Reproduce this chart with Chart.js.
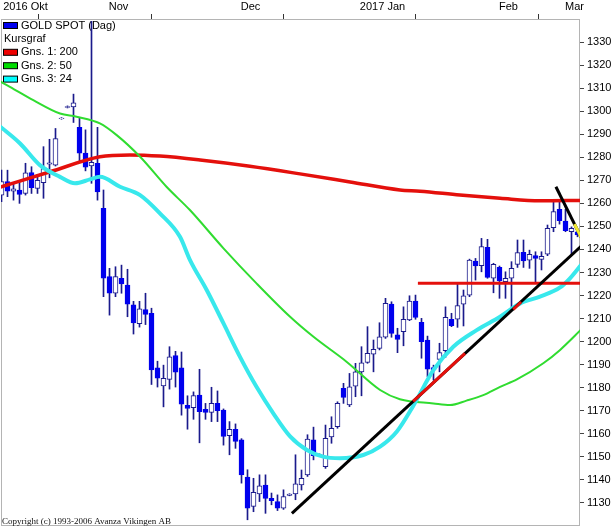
<!DOCTYPE html>
<html>
<head>
<meta charset="utf-8">
<title>GOLD SPOT (Dag)</title>
<script src="https://cdn.jsdelivr.net/npm/chart.js@4.4.0/dist/chart.umd.min.js"></script>
<style>
    html, body { margin: 0; padding: 0; background: #fff; }
    #wrap { width: 616px; height: 527px; position: relative; }
</style>
</head>
<body>
<div id="wrap"><canvas id="goldChart"></canvas></div>
<script>
// Trading days shown in the chart (one candle per day)
const dates = [
    '2016-10-19','2016-10-20','2016-10-21','2016-10-24','2016-10-25','2016-10-26','2016-10-27','2016-10-28','2016-10-31',
    '2016-11-01','2016-11-02','2016-11-03','2016-11-04','2016-11-07','2016-11-08','2016-11-09','2016-11-10','2016-11-11',
    '2016-11-14','2016-11-15','2016-11-16','2016-11-17','2016-11-18','2016-11-21','2016-11-22','2016-11-23','2016-11-24',
    '2016-11-25','2016-11-28','2016-11-29','2016-11-30',
    '2016-12-01','2016-12-02','2016-12-05','2016-12-06','2016-12-07','2016-12-08','2016-12-09','2016-12-12','2016-12-13',
    '2016-12-14','2016-12-15','2016-12-16','2016-12-19','2016-12-20','2016-12-21','2016-12-22','2016-12-23','2016-12-26',
    '2016-12-27','2016-12-28','2016-12-29','2016-12-30',
    '2017-01-02','2017-01-03','2017-01-04','2017-01-05','2017-01-06','2017-01-09','2017-01-10','2017-01-11','2017-01-12',
    '2017-01-13','2017-01-16','2017-01-17','2017-01-18','2017-01-19','2017-01-20','2017-01-23','2017-01-24','2017-01-25',
    '2017-01-26','2017-01-27','2017-01-30','2017-01-31',
    '2017-02-01','2017-02-02','2017-02-03','2017-02-06','2017-02-07','2017-02-08','2017-02-09','2017-02-10','2017-02-13',
    '2017-02-14','2017-02-15','2017-02-16','2017-02-17','2017-02-20','2017-02-21','2017-02-22','2017-02-23','2017-02-24',
    '2017-02-27','2017-02-28',
    '2017-03-01','2017-03-02'
];

const opens = [
    1263.6, 1269.4, 1265.3, 1265.8, 1264.3, 1273.4, 1266.5, 1269.0, 1277.0, 1276.6,
    1296.7, 1301.6, 1301.9, 1293.0, 1281.8, 1276.2, 1277.4, 1257.8, 1228.2, 1221.0,
    1227.5, 1224.5, 1216.0, 1207.8, 1213.9, 1212.3, 1188.6, 1180.8, 1183.6, 1193.9,
    1188.6, 1172.4, 1171.3, 1176.8, 1170.6, 1169.3, 1173.2, 1170.3, 1159.2, 1162.0,
    1157.4, 1141.2, 1128.5, 1133.9, 1137.8, 1132.0, 1130.6, 1127.7, 1133.3, 1133.9,
    1137.8, 1142.2, 1157.4, 1150.6, 1145.7, 1158.7, 1163.1, 1179.7, 1172.5, 1180.7,
    1186.9, 1191.0, 1194.6, 1197.1, 1201.9, 1216.3, 1202.9, 1204.3, 1209.4, 1217.6,
    1208.4, 1200.7, 1188.7, 1192.3, 1196.1, 1209.7, 1209.7, 1216.3, 1220.2, 1235.0,
    1233.0, 1240.9, 1227.5, 1232.2, 1226.0, 1227.5, 1233.5, 1238.7, 1235.4, 1237.3,
    1235.7, 1237.9, 1249.4, 1257.4, 1252.3, 1247.7, 1247.6
];
const highs = [
    1274.4, 1274.4, 1268.7, 1269.4, 1277.4, 1275.9, 1272.5, 1284.6, 1287.8, 1292.5,
    1297.2, 1302.3, 1307.4, 1296.9, 1291.9, 1339.0, 1293.0, 1265.8, 1231.8, 1232.5,
    1233.2, 1231.4, 1217.5, 1217.5, 1221.0, 1214.5, 1191.5, 1189.8, 1197.8, 1195.8,
    1195.5, 1176.5, 1178.2, 1188.0, 1173.2, 1180.2, 1178.6, 1170.8, 1165.3, 1164.3,
    1157.9, 1144.4, 1140.7, 1142.2, 1142.2, 1134.3, 1133.5, 1135.7, 1134.0, 1150.9,
    1144.3, 1159.6, 1162.9, 1151.3, 1163.8, 1167.4, 1173.9, 1181.9, 1186.2, 1190.6,
    1197.8, 1206.5, 1200.7, 1208.2, 1218.8, 1217.3, 1205.8, 1215.1, 1219.9, 1220.2,
    1210.1, 1202.4, 1189.8, 1199.3, 1215.1, 1212.3, 1225.3, 1222.4, 1235.8, 1236.1,
    1244.8, 1244.4, 1234.0, 1232.8, 1230.3, 1234.7, 1244.1, 1244.1, 1239.7, 1239.0,
    1239.0, 1250.6, 1260.7, 1261.4, 1257.4, 1249.8, 1248.5
];
const lows = [
    1260.7, 1262.9, 1261.4, 1260.0, 1263.6, 1264.3, 1264.3, 1262.2, 1271.1, 1276.2,
    1296.5, 1301.4, 1295.1, 1278.3, 1274.1, 1268.7, 1261.4, 1219.5, 1211.5, 1219.5,
    1221.0, 1210.8, 1203.3, 1206.3, 1207.4, 1181.4, 1180.3, 1171.7, 1179.4, 1180.3,
    1168.1, 1162.0, 1166.3, 1156.1, 1166.3, 1165.3, 1165.3, 1155.1, 1150.9, 1153.7,
    1138.6, 1122.7, 1126.2, 1130.6, 1125.5, 1129.2, 1126.7, 1127.2, 1133.1, 1131.4,
    1135.6, 1141.5, 1148.7, 1150.3, 1145.0, 1155.9, 1162.4, 1173.2, 1171.8, 1176.1,
    1176.5, 1190.6, 1186.9, 1196.4, 1201.4, 1201.9, 1195.2, 1198.2, 1209.1, 1209.7,
    1192.8, 1184.8, 1183.3, 1186.9, 1193.2, 1206.5, 1206.2, 1206.8, 1219.5, 1226.7,
    1230.3, 1227.5, 1221.2, 1218.8, 1218.8, 1213.7, 1232.2, 1232.2, 1231.8, 1226.0,
    1231.1, 1237.3, 1247.7, 1251.0, 1247.7, 1237.6, 1245.5
];
const closes = [
    1269.4, 1265.3, 1266.3, 1263.9, 1273.3, 1266.8, 1270.0, 1275.1, 1277.6, 1288.1,
    1297.0, 1302.0, 1303.6, 1281.8, 1275.7, 1277.8, 1265.0, 1227.5, 1221.0, 1228.2,
    1225.0, 1216.3, 1208.1, 1214.2, 1211.8, 1187.7, 1184.1, 1184.1, 1193.4, 1186.8,
    1172.9, 1171.0, 1176.6, 1169.6, 1169.3, 1173.2, 1170.0, 1158.9, 1162.0, 1156.7,
    1142.2, 1127.7, 1134.6, 1137.4, 1132.0, 1131.0, 1127.7, 1132.8, 1133.8, 1138.3,
    1140.7, 1157.7, 1150.5, 1151.0, 1158.0, 1162.4, 1173.2, 1175.8, 1180.4, 1186.9,
    1190.8, 1194.9, 1196.7, 1202.1, 1216.6, 1203.6, 1201.0, 1209.7, 1217.6, 1210.5,
    1200.0, 1188.0, 1187.7, 1195.2, 1210.5, 1206.9, 1215.6, 1219.9, 1235.4, 1232.9,
    1241.3, 1227.9, 1233.5, 1226.4, 1227.5, 1231.8, 1238.6, 1235.0, 1237.9, 1236.1,
    1237.0, 1249.2, 1256.4, 1252.5, 1248.1, 1249.2, 1246.3
];

// Moving averages as [day index, price]
const ma200 = [
    [-0.3, 1267.0], [8.1, 1273.7], [16.4, 1280.2], [21.4, 1281.0], [26.4, 1280.5], [33.1, 1278.8],
    [41.4, 1276.1], [49.75, 1272.8], [58.1, 1269.3], [66.4, 1265.8], [69.75, 1265.3], [76.4, 1263.6],
    [83.1, 1262.2], [89.75, 1261.1], [96.6, 1261.3]
];
const ma50 = [
    [-0.3, 1313.0], [1.4, 1310.6], [5.3, 1304.8], [9.75, 1299.0], [12.5, 1297.6], [16.4, 1294.7],
    [19.2, 1289.6], [23.1, 1280.2], [27.5, 1267.2], [31.4, 1257.1], [37, 1240.5], [42.5, 1225.3],
    [48.1, 1210.8], [52, 1202.1], [57.5, 1191.3], [63.1, 1179.0], [66.4, 1175.0], [72, 1173.2],
    [74.75, 1172.5], [77.5, 1174.4], [80.3, 1176.8], [83.1, 1180.4], [85.9, 1183.6], [90.3, 1190.6],
    [93.1, 1196.4], [96.6, 1205.2]
];
const ma24 = [
    [-0.3, 1293.5], [3.1, 1286.0], [6.4, 1276.6], [9.75, 1271.5], [12.25, 1268.7], [14.75, 1270.4],
    [16.4, 1271.5], [19.75, 1267.2], [23.1, 1263.6], [26.4, 1255.7], [29.75, 1245.5], [31.4, 1235.5],
    [34.2, 1222.4], [37, 1207.9], [39.75, 1193.4], [42.5, 1180.4], [45.3, 1168.9], [48.1, 1158.9],
    [50.9, 1153.0], [53.6, 1150.1], [56.4, 1149.4], [60.3, 1150.8], [63.1, 1154.4], [65.9, 1161.0],
    [68.6, 1172.0], [72, 1187.7], [75.3, 1197.8], [79.2, 1205.0], [83.1, 1210.8], [86.4, 1216.5],
    [89.75, 1219.5], [93.1, 1223.5], [94.75, 1227.5], [96.6, 1233.3]
];

// Hand drawn trend lines
const supportLine = [[48.4, 1125.5], [96.6, 1241.4]];
const supportRedParts = [[68.6, 1174.1], [77.25, 1194.9], [77.3, null], [85.3, 1214.0], [86.6, 1217.2]];
const levelLine = [[69.4, 1225.3], [96.6, 1225.3]];
const fallingLine = [[92.4, 1267.2], [96.6, 1245.3]];
const fallingEnd = [[95.5, 1251.0], [96.6, 1245.3]];

// Axis labels
const monthLabels = ['2016 Okt', 'Nov', 'Dec', '2017 Jan', 'Feb', 'Mar'];
const yTickValues = [1130, 1140, 1150, 1160, 1170, 1180, 1190, 1200, 1210, 1220,
    1230, 1240, 1250, 1260, 1270, 1280, 1290, 1300, 1310, 1320, 1330];
const legendHeader = 'Kursgraf';
const copyrightText = 'Copyright (c) 1993-2006 Avanza Vikingen AB';

document.addEventListener('DOMContentLoaded', () => {
    const ctx = document.getElementById('goldChart').getContext('2d');

    const BLUE = '#0000ee';
    const NAVY = '#1a1a8c';
    const RED = '#e4100c';
    const GREEN = '#30dc30';
    const CYAN = '#38e8ec';
    const FONT = { family: '"Liberation Sans", Arial, sans-serif', size: 11 };

    const toXY = pts => pts.map(p => ({ x: p[0], y: p[1] }));
    const isUp = i => closes[i] >= opens[i];

    // 1. Month groups -> label positions and boundary tick marks
    const groups = [];
    dates.forEach((d, i) => {
        const key = d.slice(0, 7);
        const last = groups[groups.length - 1];
        if (last && last.key === key) last.end = i;
        else groups.push({ key, start: i, end: i });
    });
    const boundaryTicks = groups.slice(1).map(g => g.start - 0.5);
    const labelTicks = {};
    groups.forEach((g, n) => { labelTicks[(g.start + g.end) / 2] = monthLabels[n]; });
    const xTickValues = boundaryTicks.concat(Object.keys(labelTicks).map(Number)).sort((a, b) => a - b);

    // 2. Frame, legend and copyright line drawn on the canvas
    const framePlugin = {
        id: 'frame',
        beforeDatasetsDraw(chart) {
            const { ctx: c, chartArea: a } = chart;
            c.save();
            c.strokeStyle = '#b4b4b4';
            c.lineWidth = 1;
            c.strokeRect(a.left + 0.5, a.top + 0.5, a.right - a.left - 1, a.bottom - a.top - 1);

            // legend: body series, header, then the averages
            const rows = [{ text: chart.data.datasets[1].label, color: BLUE }, { text: legendHeader }];
            chart.data.datasets.filter(ds => ds.inLegend).forEach(ds => rows.push({ text: ds.label, color: ds.legendColor }));
            c.font = FONT.size + 'px ' + FONT.family;
            c.textBaseline = 'middle';
            c.fillStyle = '#000';
            rows.forEach((r, i) => {
                const y = a.top + 6.5 + i * 13.4;
                if (r.color) {
                    c.fillStyle = r.color;
                    c.fillRect(a.left + 2.5, y - 3, 14, 6);
                    c.strokeStyle = '#000';
                    c.strokeRect(a.left + 2.5, y - 3, 14, 6);
                    c.fillStyle = '#000';
                    c.fillText(r.text, a.left + 20, y);
                } else {
                    c.fillText(r.text, a.left + 3, y);
                }
            });
            c.restore();
        },
        afterDraw(chart) {
            const { ctx: c, chartArea: a } = chart;
            c.save();
            c.font = '9px "Liberation Serif", "Times New Roman", serif';
            c.fillStyle = '#111';
            c.textBaseline = 'alphabetic';
            c.fillText(copyrightText, a.left + 1, a.bottom - 2);
            c.restore();
        }
    };

    // 3. Chart: wicks and bodies as floating bars, averages and trend lines as lines
    new Chart(ctx, {
        type: 'bar',
        data: {
            datasets: [
                {
                    label: 'wick',
                    data: dates.map((d, i) => ({ x: i, y: [lows[i], highs[i]] })),
                    backgroundColor: NAVY,
                    borderWidth: 0,
                    barThickness: 1,
                    grouped: false,
                    order: 20
                },
                {
                    label: 'GOLD SPOT (Dag)',
                    data: dates.map((d, i) => ({ x: i, y: [opens[i], closes[i]] })),
                    backgroundColor: c => isUp(c.dataIndex) ? '#ffffff' : BLUE,
                    borderColor: c => isUp(c.dataIndex) ? NAVY : BLUE,
                    borderWidth: 1,
                    borderSkipped: false,
                    barThickness: 5,
                    grouped: false,
                    order: 19
                },
                {
                    type: 'line', label: 'Gns. 1: 200', inLegend: true, legendColor: '#ee0000',
                    data: toXY(ma200), borderColor: RED, borderWidth: 3.5,
                    pointRadius: 0, cubicInterpolationMode: 'monotone', order: 12
                },
                {
                    type: 'line', label: 'Gns. 2: 50', inLegend: true, legendColor: '#00dd00',
                    data: toXY(ma50), borderColor: GREEN, borderWidth: 2,
                    pointRadius: 0, cubicInterpolationMode: 'monotone', order: 11
                },
                {
                    type: 'line', label: 'Gns. 3: 24', inLegend: true, legendColor: '#00ffff',
                    data: toXY(ma24), borderColor: CYAN, borderWidth: 4,
                    pointRadius: 0, cubicInterpolationMode: 'monotone', order: 10
                },
                {
                    type: 'line', label: 'Stöd', data: toXY(supportLine),
                    borderColor: '#000', borderWidth: 3, pointRadius: 0, order: 5
                },
                {
                    type: 'line', label: 'Stöd (röd)', data: toXY(supportRedParts),
                    borderColor: RED, borderWidth: 3, pointRadius: 0, spanGaps: false, order: 4
                },
                {
                    type: 'line', label: 'Nivå', data: toXY(levelLine),
                    borderColor: RED, borderWidth: 3, pointRadius: 0, order: 6
                },
                {
                    type: 'line', label: 'Motstånd', data: toXY(fallingLine),
                    borderColor: '#000', borderWidth: 3, pointRadius: 0, order: 3
                },
                {
                    type: 'line', label: 'Motstånd slut', data: toXY(fallingEnd),
                    borderColor: '#f0e830', borderWidth: 3, pointRadius: 0, order: 2
                }
            ]
        },
        options: {
            responsive: true,
            maintainAspectRatio: false,
            animation: false,
            layout: { padding: { left: 1, right: 0, top: 0, bottom: 1 } },
            plugins: {
                legend: { display: false },
                tooltip: { enabled: false }
            },
            scales: {
                x: {
                    type: 'linear',
                    position: 'top',
                    min: -0.083,
                    max: 96.417,
                    offset: false,
                    bounds: 'data',
                    border: { display: false },
                    grid: {
                        drawOnChartArea: false,
                        drawTicks: true,
                        tickLength: 5,
                        tickColor: c => (c.tick && boundaryTicks.includes(c.tick.value)) ? '#333' : 'rgba(0,0,0,0)'
                    },
                    ticks: {
                        autoSkip: false,
                        maxRotation: 0,
                        padding: 0,
                        color: '#000',
                        font: FONT,
                        callback: v => labelTicks[v] || ''
                    },
                    afterBuildTicks: s => { s.ticks = xTickValues.map(v => ({ value: v })); },
                    afterFit: s => { s.height = 19; s.paddingLeft = 0; s.paddingRight = 0; }
                },
                y: {
                    position: 'right',
                    min: 1120,
                    max: 1340,
                    border: { display: false },
                    grid: {
                        drawOnChartArea: false,
                        tickLength: 4,
                        tickColor: '#444'
                    },
                    ticks: { padding: 3, color: '#000', font: FONT, callback: v => String(v) },
                    afterBuildTicks: s => { s.ticks = yTickValues.map(v => ({ value: v })); },
                    afterFit: s => { s.width = 36; s.paddingTop = 0; s.paddingBottom = 0; }
                }
            }
        },
        plugins: [framePlugin]
    });
});
</script>
</body>
</html>
